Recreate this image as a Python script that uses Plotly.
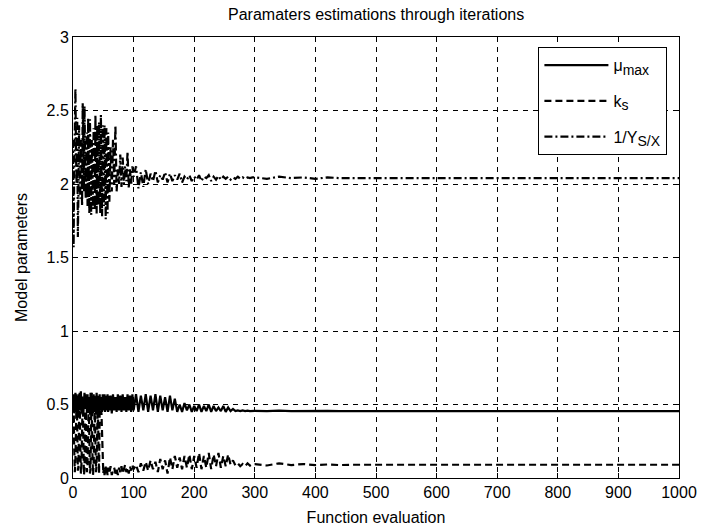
import plotly.graph_objects as go

# Function evaluation index at which each sample was read
evals = (list(range(0, 60, 1)) + list(range(60, 100, 2)) + list(range(100, 300, 4))
         + list(range(300, 500, 20)) + list(range(500, 1001, 100)))

mu_max = [
    # 0-59
    0.50, 0.57, 0.44, 0.53, 0.58, 0.45, 0.49, 0.56, 0.42, 0.55,
    0.57, 0.46, 0.52, 0.59, 0.44, 0.48, 0.54, 0.43, 0.56, 0.58,
    0.47, 0.51, 0.56, 0.44, 0.57, 0.45, 0.50, 0.55, 0.43, 0.58,
    0.46, 0.52, 0.56, 0.44, 0.57, 0.45, 0.49, 0.55, 0.43, 0.58,
    0.46, 0.53, 0.56, 0.44, 0.57, 0.46, 0.50, 0.55, 0.45, 0.57,
    0.46, 0.52, 0.57, 0.45, 0.56, 0.46, 0.50, 0.57, 0.45, 0.56,
    # 60-98
    0.46, 0.56, 0.44, 0.57, 0.46, 0.55, 0.45, 0.57, 0.46, 0.56,
    0.45, 0.57, 0.46, 0.55, 0.45, 0.57, 0.46, 0.56, 0.45, 0.57,
    # 100-296
    0.46, 0.57, 0.45, 0.56, 0.46, 0.57, 0.45, 0.56, 0.46, 0.57,
    0.45, 0.56, 0.46, 0.55, 0.45, 0.56, 0.46, 0.54, 0.45, 0.50,
    0.45, 0.51, 0.46, 0.50, 0.45, 0.49, 0.455, 0.50, 0.45, 0.49,
    0.455, 0.50, 0.45, 0.49, 0.455, 0.48, 0.455, 0.49, 0.45, 0.48,
    0.455, 0.47, 0.455, 0.46, 0.455, 0.46, 0.455, 0.458, 0.455, 0.457,
    # 300-480
    0.457, 0.455, 0.458, 0.455, 0.457, 0.455, 0.457, 0.455, 0.456, 0.455,
    # 500-1000
    0.455, 0.455, 0.455, 0.455, 0.455, 0.455,
]

k_s = [
    # 0-59
    0.30, 0.55, 0.20, 0.04, 0.12, 0.48, 0.57, 0.35, 0.05, 0.08,
    0.40, 0.58, 0.25, 0.03, 0.10, 0.52, 0.56, 0.30, 0.02, 0.06,
    0.45, 0.57, 0.22, 0.04, 0.09, 0.50, 0.55, 0.28, 0.03, 0.07,
    0.42, 0.58, 0.18, 0.02, 0.08, 0.47, 0.56, 0.25, 0.04, 0.10,
    0.44, 0.55, 0.20, 0.03, 0.45, 0.43, 0.46, 0.44, 0.30, 0.05,
    0.03, 0.07, 0.02, 0.05, 0.08, 0.03, 0.06, 0.02, 0.07, 0.04,
    # 60-98
    0.03, 0.08, 0.02, 0.05, 0.07, 0.03, 0.06, 0.02, 0.07, 0.04,
    0.08, 0.03, 0.06, 0.09, 0.04, 0.07, 0.03, 0.08, 0.05, 0.09,
    # 100-296
    0.06, 0.09, 0.04, 0.10, 0.05, 0.11, 0.05, 0.12, 0.06, 0.11,
    0.04, 0.13, 0.06, 0.12, 0.03, 0.14, 0.06, 0.15, 0.07, 0.14,
    0.06, 0.15, 0.07, 0.16, 0.06, 0.15, 0.07, 0.17, 0.06, 0.15,
    0.07, 0.17, 0.06, 0.16, 0.08, 0.17, 0.07, 0.15, 0.08, 0.16,
    0.09, 0.12, 0.085, 0.10, 0.08, 0.095, 0.08, 0.10, 0.085, 0.095,
    # 300-480
    0.095, 0.085, 0.10, 0.088, 0.095, 0.088, 0.092, 0.088, 0.09, 0.088,
    # 500-1000
    0.09, 0.09, 0.09, 0.09, 0.09, 0.09,
]

inv_Y = [
    # 0-59
    2.30, 1.57, 2.10, 2.35, 2.65, 2.20, 2.00, 2.45, 1.64, 1.95,
    2.40, 2.15, 1.90, 2.30, 2.05, 1.85, 2.55, 2.25, 1.95, 2.53,
    2.10, 1.90, 2.20, 2.35, 1.85, 2.45, 2.10, 1.80, 2.44, 2.20,
    1.79, 2.30, 2.05, 1.83, 2.38, 2.15, 1.82, 2.47, 2.20, 1.80,
    2.40, 2.10, 1.85, 2.42, 2.15, 1.80, 2.47, 2.25, 1.78, 2.40,
    2.15, 1.85, 2.40, 2.20, 1.76, 2.38, 2.10, 1.80, 2.35, 2.05,
    # 60-98
    1.88, 2.25, 1.95, 2.30, 2.00, 2.40, 1.95, 2.10, 2.00, 2.20,
    1.98, 2.18, 2.00, 2.12, 2.02, 2.22, 1.97, 2.10, 2.00, 2.12,
    # 100-296
    2.05, 2.12, 1.97, 2.08, 1.98, 2.10, 2.00, 2.07, 2.02, 2.09,
    2.01, 2.06, 2.03, 2.08, 2.01, 2.07, 2.02, 2.06, 2.03, 2.07,
    2.01, 2.05, 2.03, 2.06, 2.02, 2.05, 2.03, 2.06, 2.02, 2.05,
    2.04, 2.06, 2.02, 2.05, 2.03, 2.055, 2.03, 2.05, 2.035, 2.05,
    2.03, 2.045, 2.035, 2.05, 2.035, 2.045, 2.035, 2.045, 2.04, 2.045,
    # 300-480
    2.045, 2.035, 2.05, 2.04, 2.045, 2.035, 2.045, 2.04, 2.042, 2.04,
    # 500-1000
    2.04, 2.04, 2.04, 2.04, 2.04, 2.04,
]

series_names = [
    'μ<sub><span style="font-size:14px">max</span></sub>',
    'k<sub><span style="font-size:14px">s</span></sub>',
    '1/Y<sub><span style="font-size:14px">S/X</span></sub>',
]

x_ticks = [0, 100, 200, 300, 400, 500, 600, 700, 800, 900, 1000]
y_ticks = [0, 0.5, 1, 1.5, 2, 2.5, 3]
y_tick_text = ["0", "0.5", "1", "1.5", "2", "2.5", "3"]

FONT = "Liberation Sans, Arial, sans-serif"
FS = 16

fig = go.Figure()
fig.add_trace(go.Scatter(x=evals, y=mu_max, mode="lines", name=series_names[0],
                         legendgroup="a",
                         line=dict(color="black", width=2.2, dash="solid")))
fig.add_trace(go.Scatter(x=evals, y=k_s, mode="lines", name=series_names[1],
                         legendgroup="b",
                         line=dict(color="black", width=2.2, dash="7px,4px")))
fig.add_trace(go.Scatter(x=evals, y=inv_Y, mode="lines", name=series_names[2],
                         legendgroup="c",
                         line=dict(color="black", width=2.2, dash="8px,3px,2px,3px")))

axis_common = dict(
    showline=True, linecolor="black", linewidth=1, mirror="ticks",
    ticks="inside", ticklen=5, tickcolor="black",
    showgrid=True, gridcolor="black", gridwidth=1, griddash="5px,5px",
    zeroline=False, automargin=False,
    tickfont=dict(family=FONT, size=FS, color="black"),
)

fig.update_xaxes(range=[0, 1000], tickvals=x_ticks,
                 title=dict(text="Function evaluation", standoff=11,
                            font=dict(family=FONT, size=FS, color="black")),
                 **axis_common)
fig.update_yaxes(range=[0, 3], tickvals=y_ticks, ticktext=y_tick_text,
                 title=dict(text="Model parameters", standoff=14,
                            font=dict(family=FONT, size=FS, color="black")),
                 **axis_common)

fig.update_layout(
    width=703, height=529,
    margin=dict(l=73, r=24, t=37, b=51),
    paper_bgcolor="white", plot_bgcolor="white",
    title=dict(text="Paramaters estimations through iterations",
               x=0.535, xanchor="center", y=0.972, yanchor="middle",
               font=dict(family=FONT, size=FS, color="black")),
    showlegend=True,
    legend=dict(x=0.768, y=0.977, xanchor="left", yanchor="top",
                bgcolor="white", bordercolor="black", borderwidth=1,
                font=dict(family=FONT, size=FS, color="black"),
                itemwidth=64, tracegroupgap=12),
)

fig.write_html("out.html",
               config={"displayModeBar": False},
               post_script="document.body.style.margin='0';document.body.style.padding='0';")
